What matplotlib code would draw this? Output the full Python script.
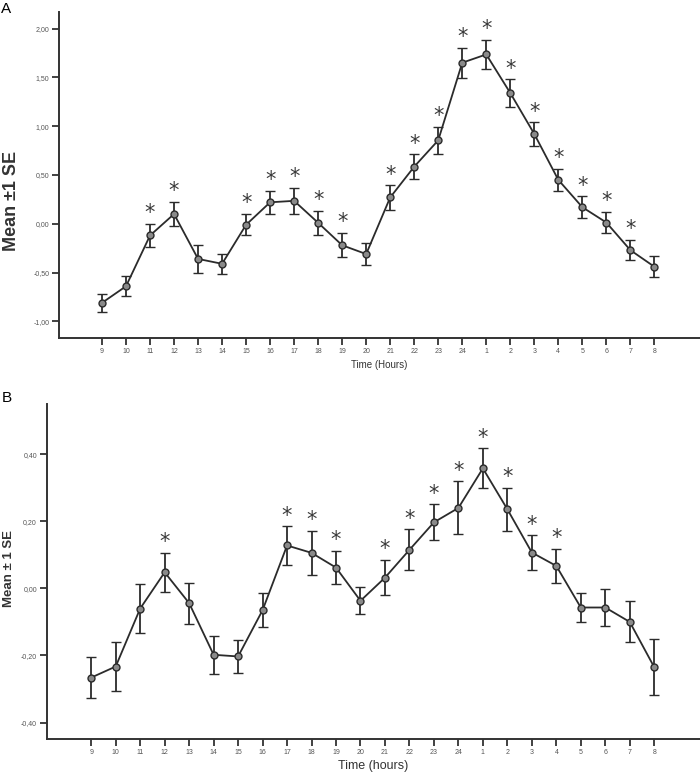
import matplotlib
matplotlib.use("Agg")
import matplotlib.pyplot as plt
import numpy as np

hours = ["9", "10", "11", "12", "13", "14", "15", "16", "17", "18", "19", "20",
         "21", "22", "23", "24", "1", "2", "3", "4", "5", "6", "7", "8"]

# panel A
mean_a = [-0.81, -0.64, -0.12, 0.10, -0.36, -0.41, -0.01, 0.22, 0.235, 0.01, -0.22, -0.31,
          0.27, 0.585, 0.855, 1.65, 1.735, 1.34, 0.92, 0.45, 0.17, 0.013, -0.27, -0.44]
se_a = [0.095, 0.105, 0.12, 0.125, 0.14, 0.105, 0.11, 0.12, 0.13, 0.125, 0.125, 0.11,
        0.125, 0.125, 0.14, 0.155, 0.15, 0.14, 0.12, 0.11, 0.11, 0.11, 0.105, 0.11]
sig_a = ["11", "12", "15", "16", "17", "18", "19", "21", "22", "23", "24",
         "1", "2", "3", "4", "5", "6", "7"]

# panel B
mean_b = [-0.266, -0.233, -0.06, 0.048, -0.044, -0.198, -0.203, -0.065, 0.128, 0.106, 0.062, -0.037,
          0.032, 0.115, 0.197, 0.24, 0.358, 0.236, 0.107, 0.067, -0.057, -0.057, -0.10, -0.235]
se_b = [0.062, 0.072, 0.072, 0.059, 0.061, 0.057, 0.049, 0.051, 0.057, 0.066, 0.05, 0.04,
        0.053, 0.061, 0.054, 0.079, 0.06, 0.064, 0.051, 0.05, 0.043, 0.055, 0.061, 0.084]
sig_b = ["12", "17", "18", "19", "21", "22", "23", "24", "1", "2", "3", "4"]

yticks_a = [-1.0, -0.5, 0.0, 0.5, 1.0, 1.5, 2.0]
yticks_b = [-0.4, -0.2, 0.0, 0.2, 0.4]

plt.rcParams['font.family'] = ['Liberation Sans', 'DejaVu Sans']

fig = plt.figure(figsize=(7, 7.72), dpi=100)
ax_a = fig.add_axes([0.0843, 0.5622, 0.9157, 0.4223])
ax_b = fig.add_axes([0.0667, 0.0424, 0.9333, 0.4343])


def panel(ax, mean, se, sig, yticks, ylim, xlim, fmt):
    x = np.arange(len(hours))
    ax.errorbar(x, mean, yerr=se, color="#2b2b2b", lw=1.3, elinewidth=1.3,
                capsize=3.5, capthick=1.3, marker="o", ms=5,
                mfc="#8a8a8a", mec="#2b2b2b", mew=1.0)
    for i, h in enumerate(hours):
        if h in sig:
            ax.annotate("*", (i, mean[i] + se[i]), xytext=(0, 0.5),
                        textcoords="offset points", ha="center", va="bottom",
                        fontsize=15, color="#3a3a3a", family="DejaVu Sans")
    ax.set_xticks(x)
    ax.set_xticklabels(hours)
    ax.set_yticks(yticks)
    ax.set_yticklabels([fmt(v) for v in yticks])
    ax.set_xlim(*xlim)
    ax.set_ylim(*ylim)
    ax.spines["top"].set_visible(False)
    ax.spines["right"].set_visible(False)
    for s in ("left", "bottom"):
        ax.spines[s].set_linewidth(1.4)
        ax.spines[s].set_color("#333333")
    ax.tick_params(axis="both", length=5, width=1.3, color="#333333",
                   labelsize=5, labelcolor="#555555", pad=2)


panel(ax_a, mean_a, se_a, sig_a, yticks_a, (-1.17, 2.17), (-1.79, 24.9),
      lambda v: f"{v:.2f}".replace(".", ","))
panel(ax_b, mean_b, se_b, sig_b, yticks_b, (-0.45, 0.55), (-1.82, 24.87),
      lambda v: f"{v:.2f}".replace(".", ","))

ax_a.set_xlabel("Time (Hours)", fontsize=7, color="#333333", labelpad=4)
ax_b.set_xlabel("Time (hours)", fontsize=9, color="#333333", labelpad=3)

fig.text(0.016, 0.74, "Mean ±1 SE", rotation=90, ha="center", va="center",
         fontsize=13, fontweight="bold", color="#333333")
fig.text(0.013, 0.264, "Mean ± 1 SE", rotation=90, ha="center", va="center",
         fontsize=9.5, fontweight="bold", color="#333333")

fig.text(0.002, 0.997, "A", fontsize=11, ha="left", va="top")
fig.text(0.002, 0.494, "B", fontsize=11, ha="left", va="top")

fig.savefig("out.png", dpi=100)
